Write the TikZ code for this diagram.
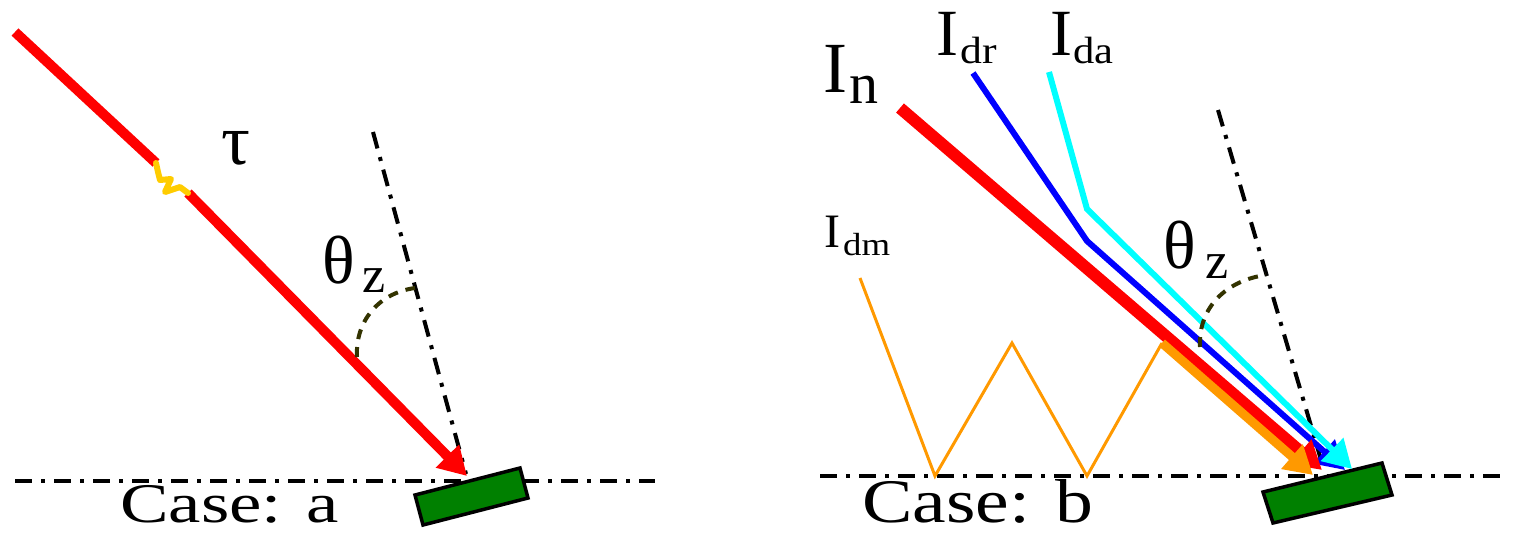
\documentclass[tikz,border=0pt]{standalone}
\usepackage{fontspec}
\setmainfont{Liberation Serif}
\usetikzlibrary{arrows.meta}
\definecolor{myorange}{RGB}{255,153,0}
\definecolor{mygreen}{RGB}{0,128,0}
\definecolor{arcolive}{RGB}{51,51,0}
\definecolor{wiggle}{RGB}{255,204,0}
\definecolor{mycyan}{RGB}{0,255,255}
\definecolor{myblue}{RGB}{0,0,255}
\definecolor{myred}{RGB}{255,0,0}
\tikzset{
  dashdot/.style={line width=4pt, dash pattern=on 17pt off 9pt on 4pt off 9pt},
  anglearc/.style={arcolive, line width=4pt, dash pattern=on 10pt off 8pt},
  bigtip/.style={-{Triangle[length=28pt,width=31pt]}},
  plate/.style={fill=mygreen, draw=black, line width=3.5pt, line join=miter},
  lbl/.style={inner sep=0pt, anchor=base west},
}
\newcommand{\fs}[1]{\fontsize{#1}{#1}\selectfont}
\begin{document}
\begin{tikzpicture}[x=1pt,y=-1pt]
\useasboundingbox (0,0) rectangle (1519,536);
% ---------------- Case a ----------------
\coordinate (hLa) at (15,481);
\coordinate (hLb) at (655,481);
\draw[dashdot] (hLa) -- (hLb);
\coordinate (nLa) at (373,132);
\coordinate (nLb) at (466,474);
\draw[dashdot] (nLa) -- (nLb);
\draw[plate] (415,495) -- (520,468) -- (528,498) -- (423,525) -- cycle;
\coordinate (ra0) at (15,32);
\coordinate (ra1) at (156,163);
\coordinate (ra2) at (188,193);
\coordinate (raT) at (467,476);
\draw[myred, line width=10pt] (ra0) -- (ra1);
\draw[myred, line width=10pt, bigtip] (ra2) -- (raT);
\draw[wiggle, line width=6pt, line cap=round, line join=round]
  (ra1) -- (158,172) -- (160,180) -- (171,179) -- (165,192) -- (180,187) -- (ra2);
\coordinate (aLa) at (357,357);
\coordinate (aLb) at (415,288);
\draw[anglearc] (aLa) .. controls (355,322) and (378,293) .. (aLb);
\node[lbl] (tau) at (221,164) {\fs{72}τ};
\node[lbl] (thL) at (322,283) {\fs{68}θ};
\node[lbl] (zL) at (362,292) {\fs{52}z};
\node[lbl] (caseA) at (120,522) {\fs{56}\scalebox{1.3}[1]{Case: a}};
% ---------------- Case b ----------------
\coordinate (hRa) at (820,476);
\coordinate (hRb) at (1500,476);
\draw[dashdot] (hRa) -- (hRb);
\coordinate (nRa) at (1218,110);
\coordinate (nRb) at (1324,470);
\draw[dashdot] (nRa) -- (nRb);
\draw[plate] (1263,492) -- (1382,463) -- (1392,495) -- (1273,523) -- cycle;
% diffuse (blue)
\coordinate (b0) at (973,73);
\coordinate (b1) at (1087,241);
\coordinate (bT) at (1345,470);
\draw[myblue, line width=6pt, line join=miter, bigtip] (b0) -- (b1) -- (bT);
% normal beam (red)
\coordinate (r0) at (900,108);
\coordinate (rT) at (1322,470);
\draw[myred, line width=12pt, bigtip] (r0) -- (rT);
% diffuse (cyan)
\coordinate (c0) at (1049,72);
\coordinate (c1) at (1087,209);
\coordinate (cT) at (1352,469);
\draw[mycyan, line width=6pt, line join=miter, bigtip] (c0) -- (c1) -- (cT);
% multiple reflection (orange)
\coordinate (o0) at (860,278);
\coordinate (o1) at (935,476);
\coordinate (o2) at (1012,343);
\coordinate (o3) at (1087,476);
\coordinate (o4) at (1162,343);
\coordinate (oT) at (1313,475);
\draw[myorange, line width=3pt, line join=miter] (o0) -- (o1) -- (o2) -- (o3) -- (o4);
\draw[myorange, line width=9pt, bigtip] (o4) -- (oT);
\coordinate (aRa) at (1200,347);
\coordinate (aRb) at (1266,275);
\draw[anglearc] (aRa) .. controls (1198,306) and (1228,280) .. (aRb);
\node[lbl] (In) at (823,92) {\fs{72}I};
\node[lbl] (Inn) at (849,103) {\fs{58}n};
\node[lbl] (Idr) at (936,55) {\fs{66}I};
\node[lbl] (Idrs) at (960,63) {\fs{38}\scalebox{1.15}[1]{dr}};
\node[lbl] (Ida) at (1050,55) {\fs{66}I};
\node[lbl] (Idas) at (1073,63) {\fs{38}\scalebox{1.12}[1]{da}};
\node[lbl] (Idm) at (824,247) {\fs{48}I};
\node[lbl] (Idms) at (843,255) {\fs{32}\scalebox{1.15}[1]{dm}};
\node[lbl] (thR) at (1163,268) {\fs{68}θ};
\node[lbl] (zR) at (1205,278) {\fs{52}z};
\node[lbl] (caseB) at (862,522) {\fs{62}\scalebox{1.22}[1]{Case: b}};
\end{tikzpicture}
\end{document}
